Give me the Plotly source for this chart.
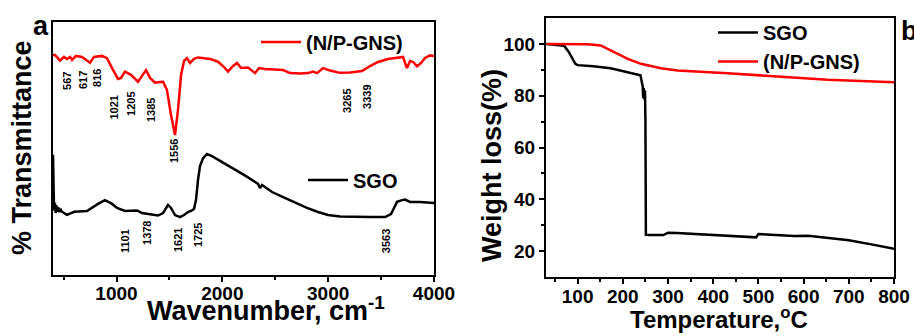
import plotly.graph_objects as go

# ---------------- Panel a: FTIR ----------------
ftir_np_wn = [400, 419, 447, 466, 504, 532, 561, 580, 617, 674, 750, 787, 863, 910, 958, 1014, 1043,
              1080, 1137, 1203, 1241, 1279, 1317, 1364, 1411, 1440, 1477, 1515, 1553, 1581, 1610, 1638,
              1666, 1695, 1732, 1770, 1884, 1959, 2016, 2054, 2101, 2139, 2177, 2243, 2309, 2347, 2403,
              2498, 2574, 2640, 2734, 2810, 2857, 2895, 2952, 3018, 3112, 3207, 3273, 3320, 3396, 3471,
              3566, 3632, 3679, 3708, 3736, 3745, 3774, 3802, 3840, 3878, 3915, 3963, 4000]
ftir_np_t = [87.0, 87.0, 85.7, 84.7, 86.2, 85.4, 86.2, 85.0, 86.6, 86.2, 83.9, 86.2, 86.6, 85.7, 81.8,
             77.5, 77.9, 80.4, 79.1, 76.4, 78.7, 81.0, 77.9, 76.0, 76.3, 76.4, 73.1, 63.2, 55.3, 65.2,
             79.1, 84.6, 85.7, 83.8, 85.4, 86.0, 85.4, 84.3, 82.2, 80.4, 82.6, 83.8, 81.8, 82.0, 79.8,
             81.8, 81.4, 81.2, 81.0, 79.8, 79.6, 79.8, 80.4, 79.8, 81.8, 80.8, 79.9, 80.0, 80.4, 80.6,
             82.6, 84.2, 85.4, 85.8, 86.2, 86.2, 82.6, 81.8, 84.6, 84.2, 82.5, 83.8, 85.8, 86.8, 86.6]

ftir_sgo_wn = [400, 404, 410, 418, 425, 432, 440, 450, 460, 470, 480, 500, 532, 600, 721, 825, 891, 958,
               1005, 1080, 1156, 1194, 1241, 1317, 1392, 1440, 1487, 1515, 1553, 1600, 1638, 1676, 1704,
               1732, 1751, 1770, 1789, 1818, 1855, 1902, 1978, 2101, 2224, 2337, 2356, 2375, 2470, 2574,
               2687, 2800, 2904, 2999, 3112, 3254, 3396, 3538, 3594, 3622, 3651, 3698, 3727, 3774, 3869, 4000]
ftir_sgo_t = [47.5, 38.0, 25.5, 28.5, 24.5, 27.5, 25.0, 26.8, 24.8, 26.2, 25.2, 24.6, 23.8, 25.0, 25.3,
              28.1, 29.6, 28.1, 26.5, 25.3, 25.3, 25.5, 24.5, 24.1, 23.5, 24.5, 27.7, 26.5, 23.7, 22.9,
              23.7, 24.9, 25.3, 26.1, 29.6, 37.5, 43.1, 46.2, 47.8, 47.0, 45.1, 42.3, 39.1, 36.0, 34.4,
              35.6, 32.8, 30.8, 28.5, 26.5, 24.9, 23.7, 23.1, 22.9, 22.9, 22.9, 24.1, 26.5, 28.9, 29.6,
              29.8, 28.9, 28.9, 28.5]

np_peak_labels = ["567", "617", "816", "1021", "1205", "1385", "1556", "3265", "3339"]
np_label_x = [532, 684, 816, 967, 1137, 1326, 1543, 3178, 3367]
np_label_y = [76.7, 77.1, 77.9, 66.2, 67.6, 65.2, 49.0, 68.8, 70.4]

sgo_peak_labels = ["1101", "1378", "1621", "1725", "3563"]
sgo_label_x = [1080, 1288, 1581, 1770, 3547]
sgo_label_y = [13.4, 16.6, 13.8, 15.8, 13.4]

# ---------------- Panel b: TGA ----------------
tga_sgo_T = [31, 50, 70, 80, 95, 100, 135, 173, 210, 239, 244, 245, 246, 248, 249, 250, 251, 260,
             290, 300, 320, 360, 400, 450, 495, 500, 520, 578, 610, 650, 700, 750, 800]
tga_sgo_w = [100, 99.7, 99.3, 97.0, 92.3, 91.8, 91.4, 90.6, 89.0, 87.9, 83.5, 79.0, 83.0, 78.5, 82.0,
             70.0, 26.3, 26.2, 26.2, 27.1, 27.0, 26.6, 26.1, 25.7, 25.3, 26.6, 26.4, 25.8, 25.9, 25.2,
             24.2, 22.6, 20.9]

tga_np_T = [31, 80, 122, 151, 180, 211, 240, 284, 321, 432, 542, 653, 800]
tga_np_w = [100, 100, 99.9, 99.4, 96.8, 94.2, 92.3, 90.6, 89.7, 88.7, 87.4, 86.2, 85.2]

RED = "#ff0000"
BLACK = "#000000"
FONT = "Liberation Sans"
W, H = 914, 336

fig = go.Figure()

fig.add_trace(go.Scatter(x=ftir_np_wn, y=ftir_np_t, mode="lines", name="(N/P-GNS)",
                         line=dict(color=RED, width=2.5), xaxis="x", yaxis="y", legend="legend"))
fig.add_trace(go.Scatter(x=ftir_sgo_wn, y=ftir_sgo_t, mode="lines", name="SGO",
                         line=dict(color=BLACK, width=2.5), xaxis="x", yaxis="y", legend="legend2"))
fig.add_trace(go.Scatter(x=tga_sgo_T, y=tga_sgo_w, mode="lines", name="SGO",
                         line=dict(color=BLACK, width=2.5), xaxis="x2", yaxis="y2", legend="legend3"))
fig.add_trace(go.Scatter(x=tga_np_T, y=tga_np_w, mode="lines", name="(N/P-GNS)",
                         line=dict(color=RED, width=2.5), xaxis="x2", yaxis="y2", legend="legend3"))

annotations = []
for txt, x, y in zip(np_peak_labels + sgo_peak_labels, np_label_x + sgo_label_x, np_label_y + sgo_label_y):
    annotations.append(dict(x=x, y=y, xref="x", yref="y", text=txt, showarrow=False, textangle=-90,
                            font=dict(family=FONT, size=11, color=BLACK, weight="bold"),
                            xanchor="center", yanchor="middle"))


def paper_text(text, px, py, size, angle=0, xanchor="center"):
    annotations.append(dict(x=px / W, y=1 - py / H, xref="paper", yref="paper", text=text,
                            showarrow=False, textangle=angle,
                            font=dict(family=FONT, size=size, color=BLACK, weight="bold"),
                            xanchor=xanchor, yanchor="middle"))


paper_text("a", 41, 26, 27)
paper_text("b", 899, 31, 27, xanchor="left")
paper_text("Wavenumber, cm<sup>-1</sup>", 266, 309, 27)
paper_text("Temperature,<sup>o</sup>C", 719, 318, 24)
paper_text("% Transmittance", 22, 148, 27, angle=-90)
paper_text("Weight loss(%)", 492, 166, 27, angle=-90)

tickfont = dict(family=FONT, size=19, color=BLACK, weight="bold")
legfont = dict(family=FONT, size=20, color=BLACK, weight="bold")

axis_common = dict(showline=True, linecolor=BLACK, linewidth=2, mirror=True, showgrid=False,
                   zeroline=False, ticks="outside", ticklen=5, tickwidth=1.5, tickcolor=BLACK,
                   tickfont=tickfont, automargin=False)

fig.update_layout(
    width=W, height=H,
    margin=dict(l=0, r=0, t=0, b=0, autoexpand=False),
    paper_bgcolor="white", plot_bgcolor="white",
    xaxis=dict(axis_common, domain=[53 / W, 434 / W], range=[400, 4000],
               tickvals=[1000, 2000, 3000, 4000], ticklabelstandoff=-5,
               minor=dict(tickvals=[500, 1500, 2500, 3500], ticks="outside", ticklen=3, tickcolor=BLACK),
               anchor="y"),
    yaxis=dict(axis_common, domain=[1 - 275 / H, 1 - 22 / H], range=[0, 100], ticks="",
               showticklabels=False, anchor="x"),
    xaxis2=dict(axis_common, domain=[546 / W, 894 / W], range=[30, 800],
                tickvals=[100, 200, 300, 400, 500, 600, 700, 800], ticklabelstandoff=-4,
                minor=dict(tickvals=[50, 150, 250, 350, 450, 550, 650, 750], ticks="outside",
                           ticklen=3, tickcolor=BLACK),
                anchor="y2"),
    yaxis2=dict(axis_common, domain=[1 - 277 / H, 1 - 18 / H], range=[10, 110],
                tickvals=[20, 40, 60, 80, 100],
                minor=dict(tickvals=[30, 50, 70, 90], ticks="outside", ticklen=3, tickcolor=BLACK),
                anchor="x2"),
    legend=dict(x=256 / W, y=1 - 42 / H, xanchor="left", yanchor="middle", font=legfont,
                bgcolor="rgba(0,0,0,0)", itemwidth=40),
    legend2=dict(x=303 / W, y=1 - 180 / H, xanchor="left", yanchor="middle", font=legfont,
                 bgcolor="rgba(0,0,0,0)", itemwidth=40),
    legend3=dict(x=713 / W, y=1 - 13 / H, xanchor="left", yanchor="top", font=legfont,
                 bgcolor="rgba(0,0,0,0)", itemwidth=40, tracegroupgap=0),
    showlegend=True,
    annotations=annotations,
)

fig.write_html("out.html", config={"displayModeBar": False},
               post_script="document.body.style.margin='0';document.body.style.overflow='hidden';")
